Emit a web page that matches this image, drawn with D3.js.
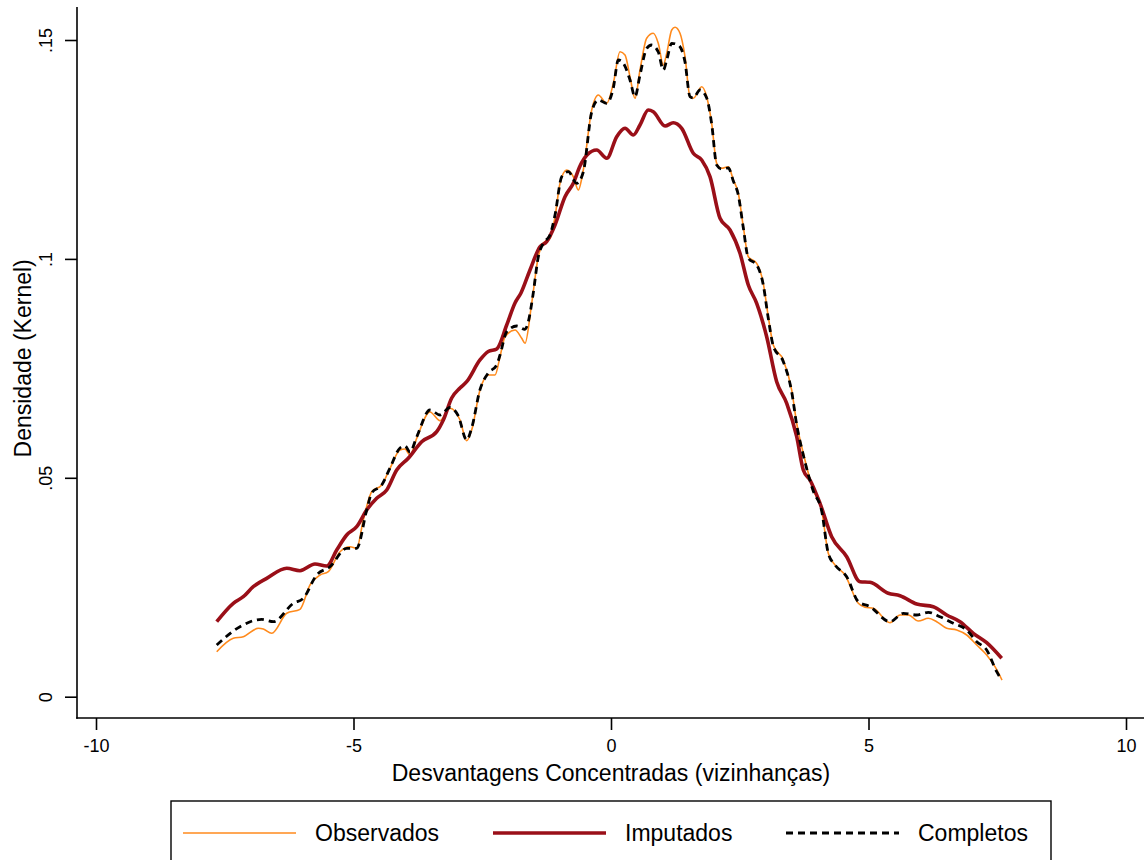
<!DOCTYPE html>
<html>
<head>
<meta charset="utf-8">
<script src="https://cdn.jsdelivr.net/npm/d3@7"></script>
<style>
  html, body { margin: 0; padding: 0; background: #fff; }
  svg { display: block; font-family: "Liberation Sans", Arial, sans-serif; }
</style>
</head>
<body>
<svg id="chart" width="1147" height="860"></svg>
<script>
// Kernel density estimates of the neighbourhood disadvantage index
// x = index value, y = density
const observados = [
  [-7.656, 0.01028], [-7.334, 0.01334], [-7.140, 0.01370], [-6.849, 0.01562], [-6.751, 0.01546],
  [-6.588, 0.01448], [-6.297, 0.01905], [-6.039, 0.01996], [-5.845, 0.02551], [-5.650, 0.02780],
  [-5.489, 0.02855], [-5.262, 0.03312], [-5.068, 0.03426], [-4.938, 0.03390], [-4.810, 0.04036],
  [-4.647, 0.04683], [-4.452, 0.04836], [-4.291, 0.05217], [-4.097, 0.05635], [-4.000, 0.05658],
  [-3.903, 0.05521], [-3.773, 0.05902], [-3.515, 0.06503], [-3.320, 0.06304], [-3.126, 0.06588],
  [-2.932, 0.06320], [-2.802, 0.05847], [-2.705, 0.06092], [-2.544, 0.07005], [-2.383, 0.07348],
  [-2.252, 0.07348], [-2.155, 0.07766], [-2.058, 0.08223], [-1.864, 0.08376], [-1.734, 0.08186],
  [-1.670, 0.08072], [-1.540, 0.08986], [-1.412, 0.10050], [-1.315, 0.10357], [-1.184, 0.10471],
  [-1.087, 0.10964], [-0.990, 0.11727], [-0.860, 0.12031], [-0.732, 0.11878], [-0.635, 0.11574],
  [-0.538, 0.12031], [-0.375, 0.13401], [-0.247, 0.13744], [-0.083, 0.13554], [0.045, 0.14011],
  [0.175, 0.14733], [0.272, 0.14657], [0.369, 0.14162], [0.466, 0.13668], [0.563, 0.14315],
  [0.693, 0.15039], [0.821, 0.15153], [0.918, 0.14925], [1.016, 0.14429], [1.082, 0.14696],
  [1.179, 0.15228], [1.243, 0.15290], [1.340, 0.15153], [1.437, 0.14619], [1.534, 0.13705],
  [1.598, 0.13668], [1.761, 0.13933], [1.858, 0.13705], [1.955, 0.13097], [2.052, 0.12184],
  [2.150, 0.12070], [2.278, 0.12106], [2.375, 0.11802], [2.472, 0.11499], [2.569, 0.10736],
  [2.666, 0.10050], [2.829, 0.09899], [2.957, 0.09443], [3.054, 0.08680], [3.151, 0.08033],
  [3.346, 0.07691], [3.509, 0.07005], [3.606, 0.06245], [3.734, 0.05560], [3.928, 0.04721],
  [4.091, 0.04264], [4.219, 0.03276], [4.350, 0.03008], [4.544, 0.02780], [4.802, 0.02133],
  [4.932, 0.02042], [5.093, 0.02019], [5.417, 0.01690], [5.612, 0.01866], [5.773, 0.01866],
  [5.967, 0.01729], [6.161, 0.01791], [6.324, 0.01713], [6.518, 0.01562], [6.713, 0.01524],
  [6.907, 0.01409], [7.101, 0.01181], [7.295, 0.00952], [7.456, 0.00685], [7.592, 0.00381]
];

const imputados = [
  [-7.656, 0.01713], [-7.334, 0.02133], [-7.140, 0.02284], [-6.946, 0.02513], [-6.685, 0.02704],
  [-6.297, 0.02933], [-6.039, 0.02878], [-5.748, 0.03031], [-5.520, 0.02985], [-5.326, 0.03351],
  [-5.132, 0.03693], [-4.938, 0.03883], [-4.744, 0.04264], [-4.550, 0.04532], [-4.355, 0.04721],
  [-4.161, 0.05178], [-3.936, 0.05445], [-3.676, 0.05825], [-3.384, 0.06053], [-3.256, 0.06320],
  [-3.093, 0.06823], [-2.932, 0.07051], [-2.802, 0.07195], [-2.544, 0.07691], [-2.383, 0.07885],
  [-2.219, 0.07942], [-2.025, 0.08490], [-1.864, 0.08993], [-1.748, 0.09221], [-1.573, 0.09747],
  [-1.379, 0.10279], [-1.249, 0.10393], [-1.087, 0.10774], [-0.893, 0.11421], [-0.732, 0.11727],
  [-0.602, 0.12122], [-0.466, 0.12373], [-0.278, 0.12487], [-0.083, 0.12298], [0.111, 0.12791],
  [0.272, 0.12983], [0.433, 0.12830], [0.563, 0.13058], [0.724, 0.13401], [0.821, 0.13362],
  [1.049, 0.13036], [1.210, 0.13111], [1.373, 0.12983], [1.598, 0.12412], [1.761, 0.12259],
  [1.922, 0.11878], [2.117, 0.10927], [2.311, 0.10660], [2.505, 0.10128], [2.666, 0.09404],
  [2.829, 0.08986], [3.023, 0.08223], [3.217, 0.07195], [3.412, 0.06702], [3.606, 0.05939],
  [3.734, 0.05178], [3.864, 0.04950], [4.058, 0.04418], [4.285, 0.03655], [4.577, 0.03198],
  [4.835, 0.02627], [5.029, 0.02613], [5.384, 0.02362], [5.612, 0.02307], [5.936, 0.02117],
  [6.258, 0.02056], [6.518, 0.01866], [6.777, 0.01713], [7.035, 0.01448], [7.295, 0.01233],
  [7.586, 0.00877]
];

const completos = [
  [-7.656, 0.01181], [-7.204, 0.01599], [-6.783, 0.01768], [-6.557, 0.01713], [-6.169, 0.02133],
  [-5.975, 0.02248], [-5.715, 0.02780], [-5.456, 0.02969], [-5.132, 0.03390], [-4.938, 0.03390],
  [-4.744, 0.04264], [-4.647, 0.04653], [-4.452, 0.04836], [-4.291, 0.05224], [-4.097, 0.05681],
  [-4.000, 0.05726], [-3.903, 0.05589], [-3.773, 0.05932], [-3.515, 0.06549], [-3.320, 0.06434],
  [-3.126, 0.06606], [-2.965, 0.06412], [-2.802, 0.05863], [-2.705, 0.06138], [-2.544, 0.07012],
  [-2.383, 0.07394], [-2.219, 0.07577], [-2.155, 0.07805], [-2.025, 0.08337], [-1.831, 0.08467],
  [-1.670, 0.08392], [-1.606, 0.08566], [-1.515, 0.09175], [-1.412, 0.10043], [-1.315, 0.10357],
  [-1.184, 0.10546], [-1.087, 0.11003], [-0.957, 0.11878], [-0.829, 0.11992], [-0.666, 0.11727],
  [-0.538, 0.11985], [-0.375, 0.13356], [-0.247, 0.13630], [-0.083, 0.13554], [0.045, 0.13904],
  [0.142, 0.14543], [0.239, 0.14468], [0.369, 0.14086], [0.466, 0.13705], [0.563, 0.14200],
  [0.693, 0.14810], [0.790, 0.14886], [0.918, 0.14726], [1.016, 0.14315], [1.082, 0.14543],
  [1.179, 0.14925], [1.307, 0.14886], [1.437, 0.14497], [1.534, 0.13705], [1.598, 0.13675],
  [1.728, 0.13858], [1.858, 0.13675], [1.955, 0.13081], [2.052, 0.12145], [2.150, 0.12054],
  [2.278, 0.12077], [2.375, 0.11779], [2.472, 0.11460], [2.569, 0.10710], [2.666, 0.10020],
  [2.829, 0.09861], [2.957, 0.09405], [3.054, 0.08641], [3.151, 0.08010], [3.346, 0.07653],
  [3.509, 0.06960], [3.606, 0.06208], [3.734, 0.05521], [3.928, 0.04698], [4.091, 0.04242],
  [4.219, 0.03276], [4.350, 0.03008], [4.577, 0.02741], [4.802, 0.02170], [5.029, 0.02056],
  [5.417, 0.01713], [5.676, 0.01905], [5.936, 0.01866], [6.161, 0.01928], [6.388, 0.01827],
  [6.647, 0.01677], [6.907, 0.01524], [7.101, 0.01256], [7.295, 0.01067], [7.489, 0.00571],
  [7.573, 0.00404]
];

const xTicks = [-10, -5, 0, 5, 10];
const xTickLabels = ["-10", "-5", "0", "5", "10"];
const yTicks = [0, 0.05, 0.1, 0.15];
const yTickLabels = ["0", ".05", ".1", ".15"];

const seriesNames = ["Observados", "Imputados", "Completos"];

const xTitle = "Desvantagens Concentradas (vizinhanças)";
const yTitle = "Densidade (Kernel)";

// ---- layout ----
const svg = d3.select("#chart");
const axisX = 77, axisY = 718;      // positions of the two axis lines
const plotTop = 7, plotRight = 1144;

const x = d3.scaleLinear().domain([-10, 10]).range([96, 1126]);
const y = d3.scaleLinear().domain([0, 0.15]).range([696.7, 40]);

const styles = [
  { color: "#ff8a1c", width: 1.6, dash: null },
  { color: "#9a0f18", width: 3.6, dash: null },
  { color: "#000000", width: 2.8, dash: "7,5" }
];

// ---- axes ----
const yAxis = d3.axisLeft(y)
  .tickValues(yTicks)
  .tickFormat((d, i) => yTickLabels[i])
  .tickSize(12)
  .tickSizeOuter(0);

const gy = svg.append("g").attr("transform", `translate(${axisX},0)`).call(yAxis);
gy.select(".domain").remove();
gy.selectAll(".tick line").attr("stroke", "#000").attr("stroke-width", 1.6);
gy.selectAll(".tick text")
  .attr("x", null).attr("dy", null)
  .attr("transform", "translate(-31,0) rotate(-90)")
  .attr("text-anchor", "middle")
  .attr("dominant-baseline", "central")
  .style("font-size", "18px")
  .style("font-family", "'Liberation Sans', Arial, sans-serif")
  .attr("fill", "#000");

const xAxis = d3.axisBottom(x)
  .tickValues(xTicks)
  .tickFormat((d, i) => xTickLabels[i])
  .tickSize(12)
  .tickSizeOuter(0);

const gx = svg.append("g").attr("transform", `translate(0,${axisY})`).call(xAxis);
gx.select(".domain").remove();
gx.selectAll(".tick line").attr("stroke", "#000").attr("stroke-width", 1.6);
gx.selectAll(".tick text")
  .attr("y", 28).attr("dy", null)
  .attr("dominant-baseline", "central")
  .style("font-size", "18px")
  .style("font-family", "'Liberation Sans', Arial, sans-serif")
  .attr("fill", "#000");

svg.append("line")
  .attr("x1", axisX).attr("x2", axisX)
  .attr("y1", plotTop).attr("y2", axisY + 0.8)
  .attr("stroke", "#000").attr("stroke-width", 1.6);
svg.append("line")
  .attr("x1", axisX - 0.8).attr("x2", plotRight)
  .attr("y1", axisY).attr("y2", axisY)
  .attr("stroke", "#000").attr("stroke-width", 1.6);

// axis titles
svg.append("text")
  .attr("x", (x(-10) + x(10)) / 2 + 0)
  .attr("y", 773)
  .attr("text-anchor", "middle")
  .attr("dominant-baseline", "central")
  .style("font-size", "23px")
  .text(xTitle);

svg.append("text")
  .attr("transform", `translate(23,${(y(0) + y(0.15)) / 2 - 10}) rotate(-90)`)
  .attr("text-anchor", "middle")
  .attr("dominant-baseline", "central")
  .style("font-size", "23px")
  .text(yTitle);

// ---- density curves ----
const line = d3.line()
  .x(d => x(d[0]))
  .y(d => y(d[1]))
  .curve(d3.curveMonotoneX);

[observados, imputados, completos].forEach((data, i) => {
  svg.append("path")
    .datum(data)
    .attr("fill", "none")
    .attr("stroke", styles[i].color)
    .attr("stroke-width", styles[i].width)
    .attr("stroke-linejoin", "round")
    .attr("stroke-dasharray", styles[i].dash)
    .attr("d", line);
});

// ---- legend ----
const legend = svg.append("g");
legend.append("rect")
  .attr("x", 171).attr("y", 801)
  .attr("width", 880).attr("height", 80)
  .attr("fill", "#fff")
  .attr("stroke", "#000").attr("stroke-width", 1.4);

const keyStarts = [183, 493, 786];
seriesNames.forEach((name, i) => {
  legend.append("line")
    .attr("x1", keyStarts[i]).attr("x2", keyStarts[i] + 113)
    .attr("y1", 833).attr("y2", 833)
    .attr("stroke", styles[i].color)
    .attr("stroke-width", styles[i].width)
    .attr("stroke-dasharray", styles[i].dash);
  legend.append("text")
    .attr("x", keyStarts[i] + 132)
    .attr("y", 833)
    .attr("dominant-baseline", "central")
    .style("font-size", "23px")
    .text(name);
});
</script>
</body>
</html>
